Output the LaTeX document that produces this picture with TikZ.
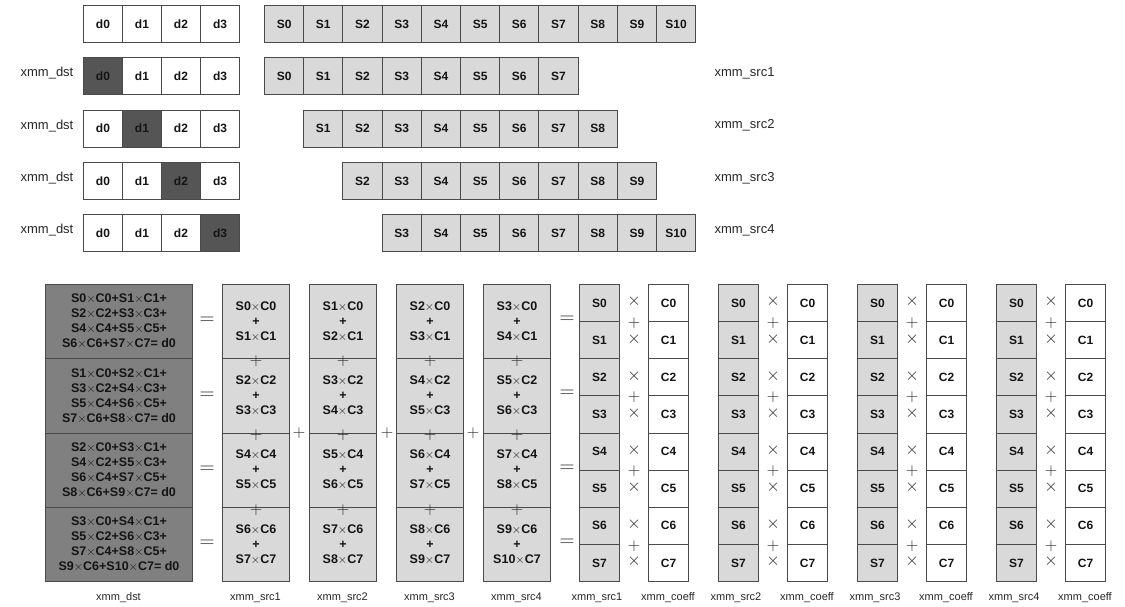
\documentclass[tikz,border=0pt]{standalone}
\usepackage{fontspec}
\setmainfont{Liberation Sans}
\usetikzlibrary{positioning}
\definecolor{CellLine}{HTML}{4A4A4A}
\definecolor{SrcGray}{HTML}{D9D9D9}
\definecolor{HiGray}{HTML}{555555}
\definecolor{DstGray}{HTML}{808080}
\tikzset{
  cellbox/.style={draw=CellLine, line width=1pt, anchor=north west, inner sep=0pt, text=black!92,
    font=\fontsize{12}{14}\selectfont\bfseries},
  dcell/.style={cellbox, minimum width=39pt, minimum height=37pt},
  scell/.style={dcell, fill=SrcGray, minimum width=39.2pt},
  sumbox/.style={cellbox, align=center, minimum height=74.25pt,
    font=\fontsize{12.5}{15}\selectfont\bfseries},
  regname/.style={font=\fontsize{13}{15}\selectfont, text=black!85},
  subname/.style={font=\fontsize{11}{13}\selectfont, text=black!85},
  opsign/.style={inner sep=0pt, text=black!85, font=\fontsize{17}{17}\selectfont},
  lanesign/.style={opsign, font=\fontsize{16}{16}\selectfont},
  eqsign/.style={opsign, font=\fontsize{21}{21}\selectfont},
}
\newcommand{\mul}{{\mdseries$\times$}}

\begin{document}
\begin{tikzpicture}[x=1pt, y=-1pt]
    \useasboundingbox (0,0) rectangle (1125,607);
    % Top row: destination and full source
    \foreach \i in {0,...,3}
      \node[dcell] (top-d\i) at ({83+39*\i},5) {d\i};
    \foreach \i in {0,...,10}
      \node[scell] (top-s\i) at ({264+39.2*\i},5) {S\i};
    % Shifted source windows, one per output lane
    \foreach \row in {1,...,4} {
      \pgfmathsetmacro{\y}{5+52.3*\row}
      \pgfmathtruncatemacro{\sh}{\row-1}
      \node[regname] (dname\row) at (47,{\y+16}) {xmm\_dst};
      \foreach \i in {0,...,3} {
        \ifnum\i=\sh \def\dfill{HiGray}\else \def\dfill{white}\fi
        \node[dcell, fill=\dfill] (d\row-\i) at ({83+39*\i},\y) {d\i};
      }
      \foreach \j in {0,...,7} {
        \pgfmathtruncatemacro{\sidx}{\j+\sh}
        \node[scell] (s\row-\j) at ({264+39.2*\sidx},\y) {S\sidx};
      }
      \node[regname, anchor=west] (sname\row) at (711,{\y+16}) {xmm\_src\row};
    }
    % Bottom left: the four dot products
    \node[sumbox, fill=DstGray, minimum width=147pt] (sum1) at (45,284)
      {S0\mul C0+S1\mul C1+\\S2\mul C2+S3\mul C3+\\S4\mul C4+S5\mul C5+\\S6\mul C6+S7\mul C7= d0};
    \node[sumbox, fill=DstGray, minimum width=147pt] (sum2) at (45,358.25)
      {S1\mul C0+S2\mul C1+\\S3\mul C2+S4\mul C3+\\S5\mul C4+S6\mul C5+\\S7\mul C6+S8\mul C7= d0};
    \node[sumbox, fill=DstGray, minimum width=147pt] (sum3) at (45,432.5)
      {S2\mul C0+S3\mul C1+\\S4\mul C2+S5\mul C3+\\S6\mul C4+S7\mul C5+\\S8\mul C6+S9\mul C7= d0};
    \node[sumbox, fill=DstGray, minimum width=147pt] (sum4) at (45,506.75)
      {S3\mul C0+S4\mul C1+\\S5\mul C2+S6\mul C3+\\S7\mul C4+S8\mul C5+\\S9\mul C6+S10\mul C7= d0};
    \node[subname] (sumname) at (118.5,598) {xmm\_dst};
    % Partial sums per source register
    \foreach \col in {1,...,4} {
      \pgfmathsetmacro{\x}{222+87*(\col-1)}
      \foreach \row in {1,...,4} {
        \pgfmathtruncatemacro{\cA}{2*(\row-1)}
        \pgfmathtruncatemacro{\cB}{\cA+1}
        \pgfmathtruncatemacro{\sA}{\col-1+\cA}
        \pgfmathtruncatemacro{\sB}{\sA+1}
        \node[sumbox, fill=SrcGray, minimum width=67pt] (part\col-\row)
          at (\x,{284+74.25*(\row-1)}) {S\sA\mul C\cA\\+\\S\sB\mul C\cB};
      }
      \foreach \row in {1,...,3}
        \node[opsign] (padd\col-\row) at ([yshift=-2pt]part\col-\row.south) {$+$};
      \node[subname] (pname\col) at ({\x+33.5},598) {xmm\_src\col};
    }
    % Signs between the blocks
    \foreach \row in {1,...,4} {
      \node[eqsign] (eqL\row) at (207,{284+74.25*(\row-0.5)}) {$=$};
      \node[eqsign] (eqR\row) at (567,{320+74.25*(\row-1)}) {$=$};
    }
    \node[opsign] (cadd1) at (299,433) {$+$};
    \node[opsign] (cadd2) at (387,433) {$+$};
    \node[opsign] (cadd3) at (473,433) {$+$};
    % Right: source times coefficient lanes
    \foreach \blk in {1,...,4} {
      \pgfmathsetmacro{\x}{579+139*(\blk-1)}
      \foreach \j in {0,...,7} {
        \node[dcell, fill=SrcGray, minimum width=40pt, minimum height=37.125pt] (rs\blk-\j)
          at (\x,{284+37.125*\j}) {S\j};
        \node[dcell, minimum width=40pt, minimum height=37.125pt] (rc\blk-\j)
          at ({\x+69},{284+37.125*\j}) {C\j};
        \node[opsign] (mul\blk-\j) at ({\x+55},{283+37.125*(\j+0.5)}) {$\times$};
      }
      \foreach \m in {0,...,3}
        \node[lanesign] (add\blk-\m) at ({\x+55},{286+37.125*(2*\m+1)}) {$+$};
      \node[subname] (rsname\blk) at ({\x+18},598) {xmm\_src\blk};
      \node[subname] (rcname\blk) at ({\x+89},598) {xmm\_coeff};
    }
\end{tikzpicture}
\end{document}
